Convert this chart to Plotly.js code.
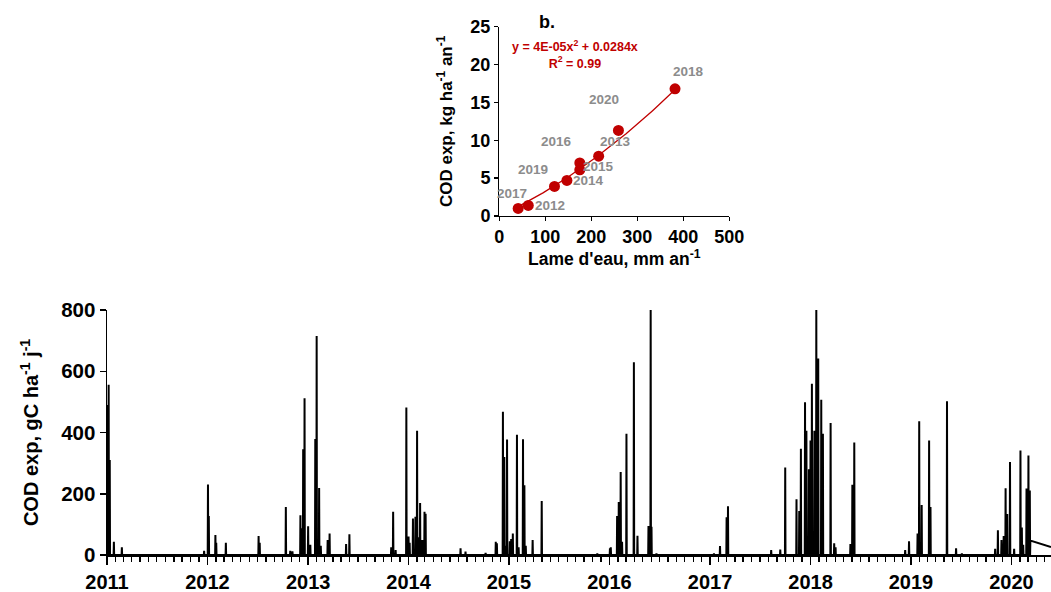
<!DOCTYPE html>
<html>
<head>
<meta charset="utf-8">
<script src="https://cdn.plot.ly/plotly-3.0.1.min.js"></script>
<style>html,body{margin:0;padding:0;background:#fff;}#chart{width:1051px;height:592px;}</style>
</head>
<body>
<div id="chart"></div>
<script>
// ---------- Main chart data: daily COD export events (gC ha-1 j-1) ----------
const eventDates = [
 '2011-01-02','2011-01-07','2011-01-11','2011-01-26','2011-02-24','2011-12-20',
 '2012-01-03','2012-01-06','2012-01-30','2012-02-02','2012-03-08','2012-07-05','2012-07-09',
 '2012-10-12','2012-10-28','2012-11-05','2012-12-04','2012-12-09','2012-12-14','2012-12-19',
 '2013-01-01','2013-01-09','2013-01-27','2013-02-01','2013-02-10','2013-02-16','2013-03-13',
 '2013-03-20','2013-05-19','2013-05-31','2013-10-30','2013-11-06','2013-11-15','2013-12-24',
 '2014-01-01','2014-01-05','2014-01-17','2014-01-26','2014-02-01','2014-02-05','2014-02-12',
 '2014-02-20','2014-02-28','2014-03-04','2014-07-09','2014-07-27','2014-10-08','2014-11-14',
 '2014-11-18','2014-12-10','2014-12-15','2014-12-18','2014-12-25',
 '2015-01-04','2015-01-09','2015-01-15','2015-01-30','2015-02-05','2015-02-21','2015-02-26',
 '2015-03-03','2015-03-28','2015-04-30','2015-11-18',
 '2016-01-03','2016-01-06','2016-01-29','2016-02-04','2016-02-11','2016-02-16','2016-03-03',
 '2016-03-30','2016-04-12','2016-05-22','2016-05-30','2016-06-02','2016-06-20',
 '2017-01-15','2017-02-06','2017-03-02','2017-03-07','2017-08-11','2017-09-13','2017-10-01',
 '2017-11-11','2017-11-21','2017-11-27','2017-12-12','2017-12-17','2017-12-26',
 '2018-01-01','2018-01-06','2018-01-15','2018-01-22','2018-01-29','2018-02-09','2018-02-15',
 '2018-03-15','2018-03-28','2018-04-02','2018-05-26','2018-06-02','2018-06-09','2018-12-11',
 '2018-12-25',
 '2019-01-25','2019-01-31','2019-02-09','2019-03-08','2019-03-13','2019-05-12','2019-06-14',
 '2019-07-05','2019-11-03','2019-11-13','2019-11-26','2019-12-04','2019-12-11','2019-12-17',
 '2019-12-27',
 '2020-01-11','2020-02-03','2020-02-08','2020-02-13','2020-02-25','2020-03-03','2020-03-08'
];
const eventValues = [
 490,556,310,43,25,14,
 230,127,65,40,40,62,40,
 157,14,12,130,87,345,512,
 94,33,379,715,219,30,49,
 70,36,68,25,141,16,482,
 60,40,119,125,406,58,170,
 49,141,135,22,11,7,43,
 38,468,320,30,377,
 45,52,70,393,25,378,228,
 30,49,176,5,
 22,25,127,173,271,43,396,
 629,63,95,810,92,5,
 5,29,123,159,16,18,286,
 182,144,347,499,406,280,
 374,559,406,810,642,507,396,
 431,38,25,36,229,367,16,
 45,
 70,437,163,374,157,502,22,
 5,20,81,49,62,218,134,
 304,
 20,341,90,33,217,325,211
];
// final recession segment (no return to zero)
const tailDates = ['2020-03-10','2020-05-24'];
const tailValues = [47,26];
const seriesStart = '2011-01-01';

// ---------- Inset (b.) data ----------
const insetYears = ['2017','2012','2019','2014','2016','2015','2013','2020','2018'];
const runoffMm   = [41, 63, 120, 147, 175, 175, 216, 259, 382];
const codExpKg   = [1.0, 1.4, 3.9, 4.7, 7.0, 6.1, 7.9, 11.3, 16.8];
// trendline coefficients as printed on the chart
const fitA = 4e-5, fitB = 0.0284;
const fitEquation = 'y = 4E-05x<sup>2</sup> + 0.0284x';
const fitR2 = 'R<sup>2</sup> = 0.99';

// ---------- build main series with zero baseline between events ----------
const DAY = 86400000;
const toISO = t => new Date(t).toISOString().slice(0,10);
const mx = [seriesStart], my = [0];
let lastT = Date.parse(seriesStart);
for (let i = 0; i < eventDates.length; i++) {
  const t = Date.parse(eventDates[i]);
  if (t - DAY > lastT) { mx.push(toISO(t - DAY)); my.push(0); }
  mx.push(eventDates[i]); my.push(eventValues[i]); lastT = t;
  const nextT = i + 1 < eventDates.length ? Date.parse(eventDates[i+1]) : Date.parse(tailDates[0]);
  if (t + DAY < nextT) { mx.push(toISO(t + DAY)); my.push(0); lastT = t + DAY; }
}
for (let i = 0; i < tailDates.length; i++) { mx.push(tailDates[i]); my.push(tailValues[i]); }

// trendline
const fx = [], fy = [];
const xmin = Math.min(...runoffMm), xmax = Math.max(...runoffMm);
for (let x = xmin; x <= xmax + 0.001; x += 3) { fx.push(x); fy.push(fitA*x*x + fitB*x); }

const FONT = 'Liberation Sans, Arial, sans-serif';
const RED = '#C00000';
const GREY = '#8C8C8C';
const W = 1051, H = 592;

const traces = [
  { x: mx, y: my, type: 'scatter', mode: 'lines', xaxis: 'x', yaxis: 'y',
    line: { color: '#000', width: 2 }, hoverinfo: 'skip', showlegend: false },
  { x: fx, y: fy, type: 'scatter', mode: 'lines', xaxis: 'x2', yaxis: 'y2',
    line: { color: RED, width: 1.3 }, showlegend: false, hoverinfo: 'skip' },
  { x: runoffMm, y: codExpKg, type: 'scatter', mode: 'markers', xaxis: 'x2', yaxis: 'y2',
    marker: { color: RED, size: 11 }, showlegend: false, cliponaxis: false }
];

// label offsets (px) for the inset year labels
const labelShift = [[-6,15],[22,0],[-22,17],[22,0],[-23,22],[19,3],[17,15],[-14,31],[13,17]];
const annotations = insetYears.map((yr, i) => ({
  x: runoffMm[i], y: codExpKg[i], xref: 'x2', yref: 'y2', text: yr, showarrow: false,
  xanchor: 'center', yanchor: 'middle',
  xshift: labelShift[i][0], yshift: labelShift[i][1],
  font: { family: FONT, size: 13.5, color: GREY, weight: 'bold' }
}));
annotations.push({ x: 575/W, y: 1 - 55/H, xref: 'paper', yref: 'paper', showarrow: false,
  xanchor: 'center', yanchor: 'middle',
  text: fitEquation + '<br>' + fitR2, align: 'center',
  font: { family: FONT, size: 12.5, color: RED, weight: 'bold' } });
annotations.push({ x: 547/W, y: 1 - 22/H, xref: 'paper', yref: 'paper', showarrow: false,
  xanchor: 'center', yanchor: 'middle',
  text: 'b.', font: { family: FONT, size: 18, color: '#000', weight: 'bold' } });

const axTick = (size) => ({ family: FONT, size: size, color: '#000', weight: 'bold' });

const layout = {
  width: W, height: H,
  margin: { l: 0, r: 0, t: 0, b: 0 },
  paper_bgcolor: '#fff', plot_bgcolor: 'rgba(0,0,0,0)',
  showlegend: false,
  font: { family: FONT, color: '#000' },
  xaxis: {
    type: 'date', domain: [107/W, 1], anchor: 'y',
    range: ['2011-01-01', '2020-05-24'],
    tick0: '2011-01-01', dtick: 'M12', tickformat: '%Y',
    ticks: 'outside', ticklen: 8, tickwidth: 1.5, tickcolor: '#000',
    minor: { dtick: 'M1', ticks: 'outside', ticklen: 5, tickwidth: 1.3, tickcolor: '#000', showgrid: false },
    showline: true, linecolor: '#000', linewidth: 1.5,
    showgrid: false, zeroline: false,
    tickfont: axTick(20)
  },
  yaxis: {
    domain: [37/H, 282/H], anchor: 'x', range: [0, 800], dtick: 200,
    ticks: 'outside', ticklen: 6, tickwidth: 1.5, tickcolor: '#000',
    showline: true, linecolor: '#000', linewidth: 1.5,
    showgrid: false, zeroline: false,
    tickfont: axTick(20.5),
    title: { text: 'COD exp, gC ha<sup>-1</sup> j<sup>-1</sup>', font: axTick(20), standoff: 17 }
  },
  xaxis2: {
    domain: [499.3/W, 729.3/W], anchor: 'y2', range: [0, 500], dtick: 100,
    ticks: 'outside', ticklen: 4, tickwidth: 1.3, tickcolor: '#000',
    showline: true, linecolor: '#000', linewidth: 1.3,
    showgrid: false, zeroline: false,
    tickfont: axTick(18),
    title: { text: "Lame d'eau, mm an<sup>-1</sup>", font: axTick(17.5), standoff: 5 }
  },
  yaxis2: {
    domain: [(H-216)/H, (H-26.7)/H], anchor: 'x2', range: [0, 25], dtick: 5,
    ticks: 'outside', ticklen: 4, tickwidth: 1.3, tickcolor: '#000',
    showline: true, linecolor: '#000', linewidth: 1.3,
    showgrid: false, zeroline: false,
    tickfont: axTick(18),
    title: { text: 'COD exp, kg ha<sup>-1</sup> an<sup>-1</sup>', font: axTick(17), standoff: 13 }
  },
  annotations: annotations
};

Plotly.newPlot('chart', traces, layout, { displayModeBar: false, staticPlot: true });
</script>
</body>
</html>
